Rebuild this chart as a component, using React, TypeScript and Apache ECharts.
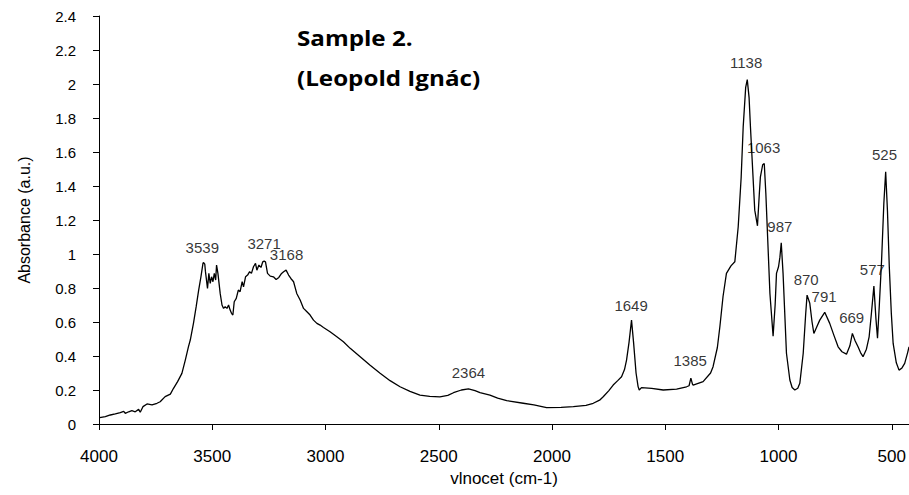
import React, { useEffect, useRef } from "react";
import * as echarts from "echarts";

// Spectrum (wavenumber cm-1, absorbance a.u.)
const wavenumbers = [
  3997, 3972, 3950, 3928, 3906, 3891, 3884, 3869, 3855, 3840, 3825, 3818, 3806, 3788, 3766, 3744,
  3730, 3708, 3685, 3671, 3653, 3634, 3619, 3605, 3597, 3583, 3571, 3560, 3550, 3541, 3539, 3533,
  3530, 3521, 3515, 3509, 3503, 3497, 3491, 3485, 3481, 3475, 3465, 3457, 3450, 3443, 3435, 3428,
  3421, 3415, 3409, 3403, 3394, 3385, 3377, 3368, 3362, 3353, 3344, 3335, 3327, 3318, 3309, 3303,
  3294, 3285, 3277, 3271, 3265, 3256, 3244, 3230, 3218, 3206, 3194, 3185, 3174, 3163, 3153, 3141,
  3127, 3112, 3097, 3082, 3068, 3053, 3038, 3024, 3009, 2980, 2950, 2921, 2891, 2847, 2803, 2759,
  2715, 2671, 2627, 2583, 2540, 2495, 2460, 2435, 2400, 2369, 2340, 2318, 2274, 2240, 2200, 2127,
  2080, 2024, 1960, 1906, 1850, 1818, 1790, 1774, 1750, 1730, 1710, 1693, 1680, 1671, 1660, 1649,
  1640, 1629, 1620, 1615, 1605, 1560, 1509, 1450, 1406, 1395, 1387, 1380, 1377, 1333, 1300, 1289,
  1270, 1259, 1245, 1230, 1210, 1193, 1178, 1165, 1156, 1145, 1138, 1130, 1124, 1105, 1093, 1085,
  1080, 1070, 1063, 1056, 1038, 1024, 1015, 1009, 1000, 994, 988, 980, 965, 950, 940, 928,
  915, 906, 891, 880, 874, 862, 852, 844, 830, 818, 796, 774, 755, 737, 720, 700,
  685, 674, 662, 649, 638, 627, 612, 600, 590, 579, 570, 563, 555, 545, 535, 527,
  519, 511, 502, 494, 480, 468, 455, 443, 430, 424,
];
const absorbance = [
  0.037, 0.043, 0.053, 0.059, 0.067, 0.074, 0.063, 0.072, 0.078, 0.072, 0.086, 0.069, 0.102, 0.118, 0.112, 0.122,
  0.131, 0.161, 0.176, 0.21, 0.249, 0.298, 0.376, 0.455, 0.494, 0.592, 0.69, 0.788, 0.866, 0.945, 0.95, 0.94,
  0.896, 0.798, 0.886, 0.827, 0.866, 0.837, 0.886, 0.847, 0.935, 0.886, 0.768, 0.7, 0.68, 0.69, 0.68, 0.7,
  0.67, 0.651, 0.641, 0.719, 0.739, 0.788, 0.778, 0.837, 0.807, 0.866, 0.876, 0.896, 0.886, 0.925, 0.945, 0.905,
  0.935, 0.921, 0.954, 0.958, 0.954, 0.886, 0.87, 0.866, 0.85, 0.862, 0.886, 0.896, 0.905, 0.876, 0.856, 0.837,
  0.768, 0.729, 0.68, 0.66, 0.641, 0.611, 0.592, 0.582, 0.568, 0.543, 0.513, 0.484, 0.445, 0.396, 0.345, 0.298,
  0.255, 0.219, 0.192, 0.17, 0.162, 0.16, 0.168, 0.184, 0.2, 0.206, 0.196, 0.184, 0.17, 0.152, 0.137, 0.122,
  0.112, 0.096, 0.098, 0.102, 0.11, 0.122, 0.14, 0.16, 0.195, 0.229, 0.255, 0.278, 0.32, 0.376, 0.48, 0.611,
  0.48, 0.3, 0.22, 0.2, 0.214, 0.21, 0.2, 0.205, 0.219, 0.225, 0.27, 0.235, 0.229, 0.249, 0.3, 0.337,
  0.45, 0.572, 0.75, 0.886, 0.93, 0.954, 1.16, 1.45, 1.748, 1.98, 2.026, 1.92, 1.748, 1.258, 1.166, 1.35,
  1.454, 1.525, 1.532, 1.356, 0.768, 0.517, 0.7, 0.886, 0.925, 0.98, 1.066, 0.886, 0.416, 0.259, 0.215, 0.2,
  0.21, 0.239, 0.416, 0.65, 0.758, 0.71, 0.6, 0.533, 0.575, 0.611, 0.657, 0.592, 0.52, 0.454, 0.425, 0.411,
  0.46, 0.533, 0.49, 0.454, 0.42, 0.396, 0.44, 0.513, 0.65, 0.811, 0.62, 0.504, 0.7, 0.964, 1.3, 1.483,
  1.25, 0.925, 0.65, 0.474, 0.36, 0.317, 0.33, 0.357, 0.42, 0.454,
];

// Peak annotations: text, and where the text sits (wavenumber, absorbance)
const peakLabels = ["3539", "3271", "3168", "2364", "1649", "1385", "1138", "1063", "987", "870", "791", "669", "577", "525"];
const peakLabelX = [3544, 3271, 3172, 2369, 1651, 1390, 1143, 1066, 994, 878, 799, 677, 586, 532];
const peakLabelY = [1.04, 1.062, 1.0, 0.304, 0.70, 0.372, 2.128, 1.627, 1.16, 0.85, 0.751, 0.627, 0.909, 1.587];

const xTicks = [4000, 3500, 3000, 2500, 2000, 1500, 1000, 500];
const titleLines = ["Sample 2.", "(Leopold Ignác)"];

const FONT = "'Liberation Sans', Arial, sans-serif";

export default function App() {
  const ref = useRef<HTMLDivElement>(null);
  useEffect(() => {
    document.body.style.margin = "0";
    if (!ref.current) return;
    const chart = echarts.init(ref.current, null, { renderer: "svg" });
    const lineData = wavenumbers.map((w, i) => [w, absorbance[i]]);
    const labelData = peakLabels.map((t, i) => ({ name: t, value: [peakLabelX[i], peakLabelY[i]] }));
    chart.setOption({
      animation: false,
      backgroundColor: "#fff",
      grid: { left: 99, right: 0, top: 16, bottom: 71, outerBoundsMode: "none" },
      xAxis: {
        type: "value",
        inverse: true,
        min: 424,
        max: 4000,
        name: "vlnocet (cm-1)",
        nameLocation: "middle",
        nameGap: 43,
        nameTextStyle: { color: "#000", fontFamily: FONT, fontSize: 17 },
        axisLine: { show: true, onZero: false, lineStyle: { color: "#000", width: 1 } },
        axisTick: { show: true, inside: false, length: 6, customValues: xTicks, lineStyle: { color: "#000" } },
        axisLabel: {
          customValues: xTicks,
          color: "#000",
          fontFamily: FONT,
          fontSize: 17,
          margin: 24,
          formatter: (v: number) => String(v),
        },
        splitLine: { show: false },
      },
      yAxis: {
        type: "value",
        min: 0,
        max: 2.4,
        interval: 0.2,
        name: "Absorbance (a.u.)",
        nameLocation: "middle",
        nameGap: 67,
        nameTextStyle: { color: "#000", fontFamily: FONT, fontSize: 16 },
        axisLine: { show: true, lineStyle: { color: "#000", width: 1 } },
        axisTick: { show: true, inside: false, length: 6, lineStyle: { color: "#000" } },
        axisLabel: { color: "#000", fontFamily: FONT, fontSize: 15, margin: 23 },
        splitLine: { show: false },
      },
      series: [
        {
          type: "line",
          data: lineData,
          showSymbol: false,
          lineStyle: { color: "#000", width: 1.3 },
          itemStyle: { color: "#000" },
          silent: true,
        },
        {
          type: "scatter",
          data: labelData,
          symbolSize: 1,
          itemStyle: { color: "rgba(0,0,0,0)" },
          silent: true,
          label: {
            show: true,
            position: "inside",
            formatter: (p: any) => p.name,
            color: "#000",
            fontFamily: FONT,
            fontSize: 15,
          },
        },
      ],
      graphic: [
        {
          type: "text",
          x: 297,
          y: 17,
          scaleX: 1.1,
          style: {
            text: titleLines.join("\n"),
            font: "bold 22px 'Open Sans', sans-serif",
            fill: "#000",
            lineHeight: 40,
          },
        },
      ],
    });
    return () => chart.dispose();
  }, []);
  return <div ref={ref} style={{ width: 909, height: 495 }} />;
}
